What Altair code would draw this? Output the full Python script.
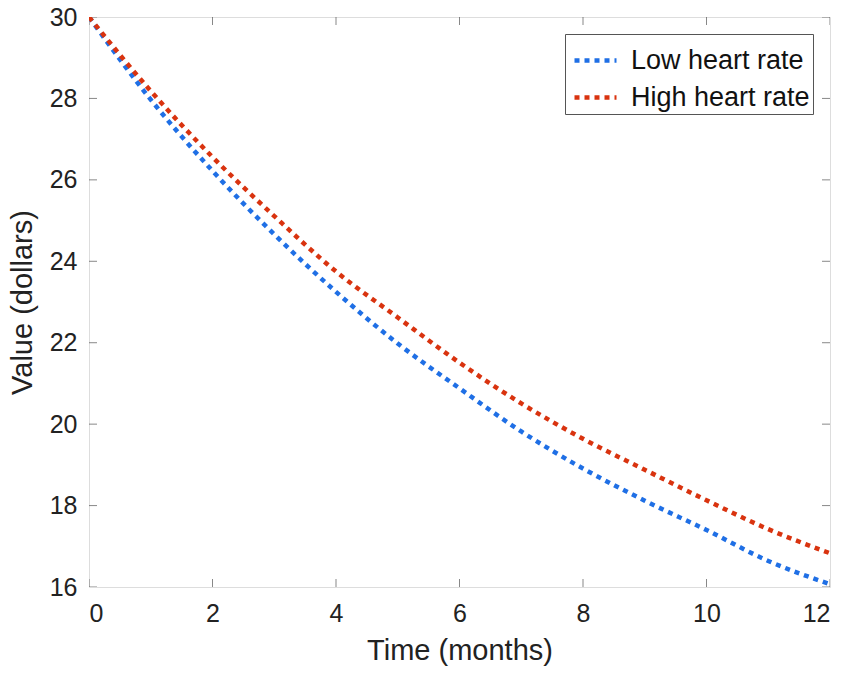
import altair as alt
import pandas as pd

months = [0, 1, 2, 3, 4, 5, 6, 7, 8, 9, 10, 11, 12]
low_hr = [30.0, 27.97, 26.22, 24.66, 23.25, 21.98, 20.88, 19.82, 18.91, 18.12, 17.40, 16.64, 16.07]
high_hr = [30.0, 28.18, 26.56, 25.11, 23.75, 22.62, 21.51, 20.51, 19.64, 18.88, 18.13, 17.42, 16.83]
series_names = ["Low heart rate", "High heart rate"]
series_colors = ["#1f6fe5", "#d9330f"]
x_ticks = [0, 2, 4, 6, 8, 10, 12]
y_ticks = [16, 18, 20, 22, 24, 26, 28, 30]

rows = []
for m, v in zip(months, low_hr):
    rows.append({"t": m, "v": v, "s": series_names[0]})
for m, v in zip(months, high_hr):
    rows.append({"t": m, "v": v, "s": series_names[1]})
df = pd.DataFrame(rows)
xt = pd.DataFrame({"t": x_ticks})
yt = pd.DataFrame({"v": y_ticks})

FONT = "Liberation Sans"
xscale = alt.Scale(domain=[0, 12], nice=False, zero=False)
yscale = alt.Scale(domain=[16, 30], nice=False, zero=False)

lines = alt.Chart(df).mark_line(
    strokeWidth=4.5, strokeDash=[5, 5], strokeCap="butt", interpolate="monotone", clip=True
).encode(
    x=alt.X("t:Q", scale=xscale, title="Time (months)",
            axis=alt.Axis(values=x_ticks, format="d", ticks=False, domain=False, grid=False,
                          labelPadding=14, titlePadding=10, labelFontSize=25,
                          titleFontSize=29, labelColor="#222", titleColor="#222",
                          titleFontWeight="normal", labelFont=FONT, titleFont=FONT)),
    y=alt.Y("v:Q", scale=yscale, title="Value (dollars)",
            axis=alt.Axis(values=y_ticks, format="d", ticks=False, domain=False, grid=False,
                          labelPadding=12, titlePadding=12, labelFontSize=25,
                          titleFontSize=29, labelColor="#222", titleColor="#222",
                          titleFontWeight="normal", labelFont=FONT, titleFont=FONT)),
    color=alt.Color("s:N", scale=alt.Scale(domain=series_names, range=series_colors),
                    legend=alt.Legend(title=None, orient="top-right", offset=17,
                                      symbolType="stroke", symbolSize=1764,
                                      symbolStrokeWidth=4.5, symbolDash=[5, 5],
                                      symbolOffset=4,
                                      labelFontSize=27, labelFont=FONT, labelColor="#111",
                                      labelLimit=0, labelOffset=12, rowPadding=-4, padding=3,
                                      strokeColor="#555", fillColor="white",
                                      cornerRadius=0)),
)

tick_style = dict(orient="vertical", size=16, thickness=1, color="#555", clip=True)
bottom_ticks = alt.Chart(xt).mark_tick(**tick_style).encode(
    x=alt.X("t:Q", scale=xscale), y=alt.datum(16))
top_ticks = alt.Chart(xt).mark_tick(**tick_style).encode(
    x=alt.X("t:Q", scale=xscale), y=alt.datum(30))
htick_style = dict(orient="horizontal", size=16, thickness=1, color="#555", clip=True)
left_ticks = alt.Chart(yt).mark_tick(**htick_style).encode(
    y=alt.Y("v:Q", scale=yscale), x=alt.datum(0))
right_ticks = alt.Chart(yt).mark_tick(**htick_style).encode(
    y=alt.Y("v:Q", scale=yscale), x=alt.datum(12))

chart = alt.layer(bottom_ticks, top_ticks, left_ticks, right_ticks, lines).properties(
    width=741, height=570,
    autosize=alt.AutoSizeParams(type="none"),
    padding={"left": 81, "top": 9, "right": 12, "bottom": 80},
).configure_view(stroke="#555", strokeWidth=1.3).configure(background="white")

chart.save("out.html", embed_options={"renderer": "svg", "actions": False})
